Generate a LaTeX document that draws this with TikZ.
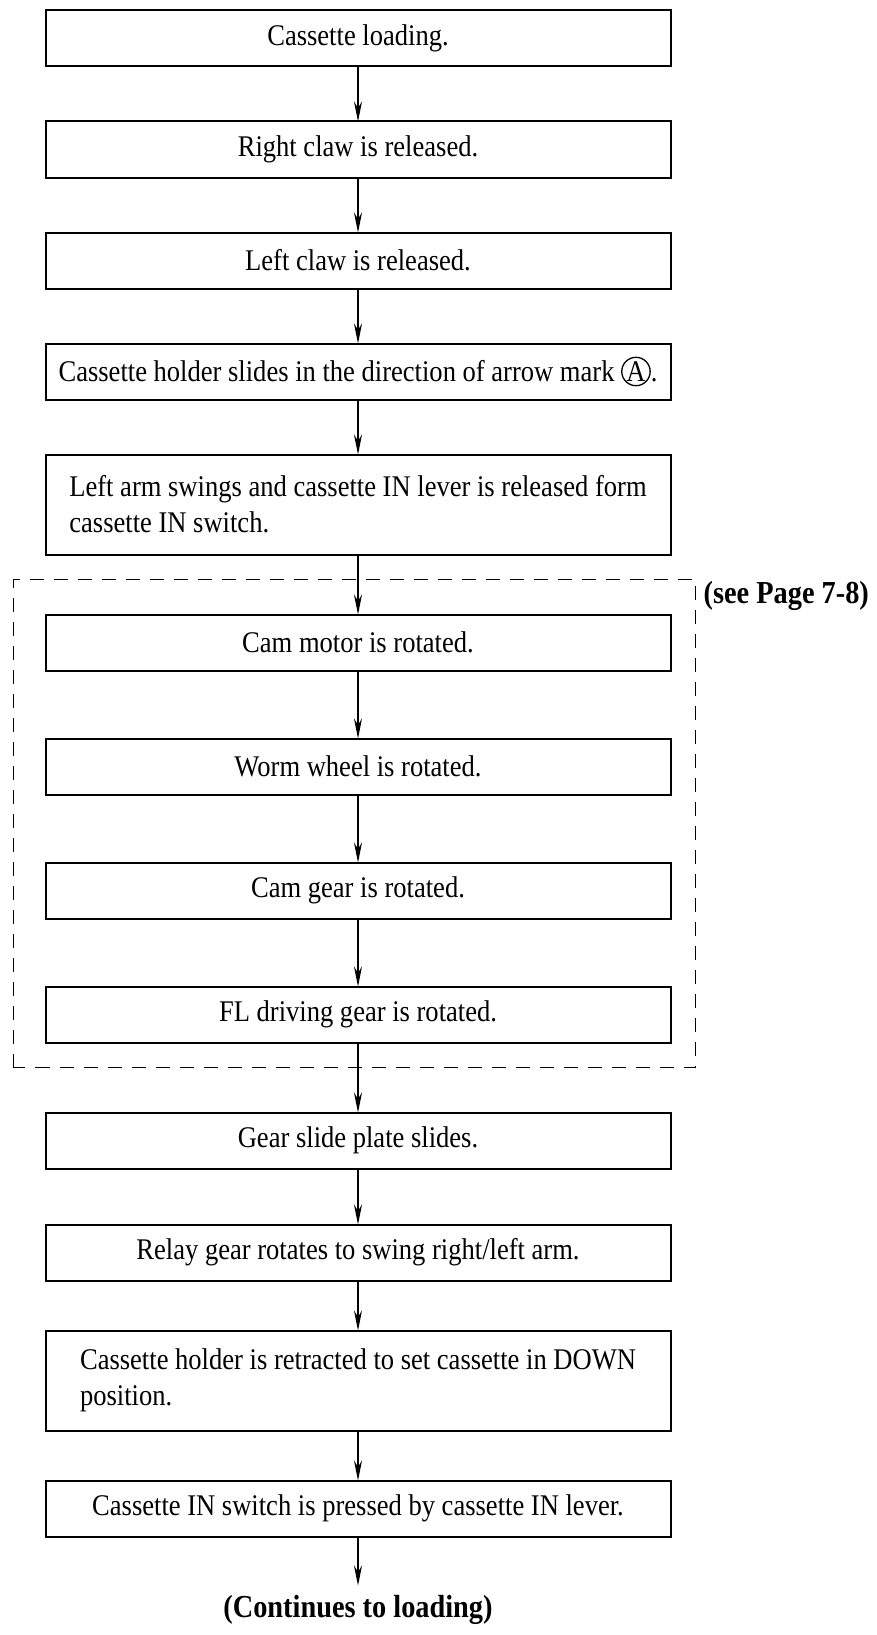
\documentclass[tikz,border=0pt]{standalone}
\usepackage{fontspec}
\setmainfont{Liberation Serif}[FakeStretch=0.885]
\usetikzlibrary{positioning,arrows.meta,calc}

\newcommand{\circA}{\tikz[baseline=(ca.base)]\node[draw,circle,inner sep=0.3pt,line width=1.3pt,minimum width=0pt,minimum height=0pt,outer sep=0pt] (ca) {A};}

\begin{document}
\begin{tikzpicture}[x=1pt,y=1pt,node distance=55pt,>={Stealth[length=20pt,width=8pt]},font=\fontsize{30}{36}\selectfont]

\tikzstyle{stepbox}=[draw=black,line width=2pt,minimum width=625pt,minimum height=56pt,inner sep=0pt,outer sep=0pt]
\tikzstyle{longbox}=[stepbox,align=left,minimum height=100pt]
\tikzstyle{dashbox}=[line width=1.5pt,dash pattern=on 14pt off 10pt]
\tikzstyle{note}=[font=\fontsize{32}{36}\selectfont\bfseries]

    \useasboundingbox (0,0) rectangle (876,-1635);

    \node[stepbox] (load) at (358,-38.5) {Cassette loading.};
    \node[stepbox,below=of load] (rclaw) {Right claw is released.};
    \node[stepbox,below=of rclaw] (lclaw) {Left claw is released.};
    \node[stepbox,below=of lclaw] (holder) {Cassette holder slides in the direction of arrow mark \circA.};
    \node[longbox,below=of holder] (larm) {Left arm swings and cassette IN lever is released form\\cassette IN switch.};
    \node[stepbox,below=60pt of larm] (motor) {Cam motor is rotated.};
    \node[stepbox,below=68pt of motor] (worm) {Worm wheel is rotated.};
    \node[stepbox,below=68pt of worm] (camgear) {Cam gear is rotated.};
    \node[stepbox,below=68pt of camgear] (fl) {FL driving gear is rotated.};
    \node[stepbox,below=70pt of fl] (plate) {Gear slide plate slides.};
    \node[stepbox,below=56pt of plate] (relay) {Relay gear rotates to swing right/left arm.};
    \node[longbox,below=50pt of relay] (retract) {Cassette holder is retracted to set cassette in DOWN\\position.};
    \node[stepbox,below=50pt of retract] (inlever) {Cassette IN switch is pressed by cassette IN lever.};
    \node[note,below=49pt of inlever,inner xsep=0pt,inner ysep=10pt,outer sep=0pt] (cont) {(Continues to loading)};

    % dashed frame round the cam steps
    \coordinate (dNE) at ($(motor.north east)+(25,35)$);
    \coordinate (dSW) at ($(fl.south west)+(-32,-25)$);
    \draw[dashbox] (dSW) rectangle (dNE);
    \node[note,anchor=west,inner sep=0pt] (see) at ($(dNE)+(8,-16)$) {(see Page 7-8)};

\path[->,line width=1.2pt]
    (load) edge (rclaw)
    (rclaw) edge (lclaw)
    (lclaw) edge (holder)
    (holder) edge (larm)
    (larm) edge (motor)
    (motor) edge (worm)
    (worm) edge (camgear)
    (camgear) edge (fl)
    (fl) edge (plate)
    (plate) edge (relay)
    (relay) edge (retract)
    (retract) edge (inlever)
    (inlever) edge (cont);
\end{tikzpicture}
\end{document}
